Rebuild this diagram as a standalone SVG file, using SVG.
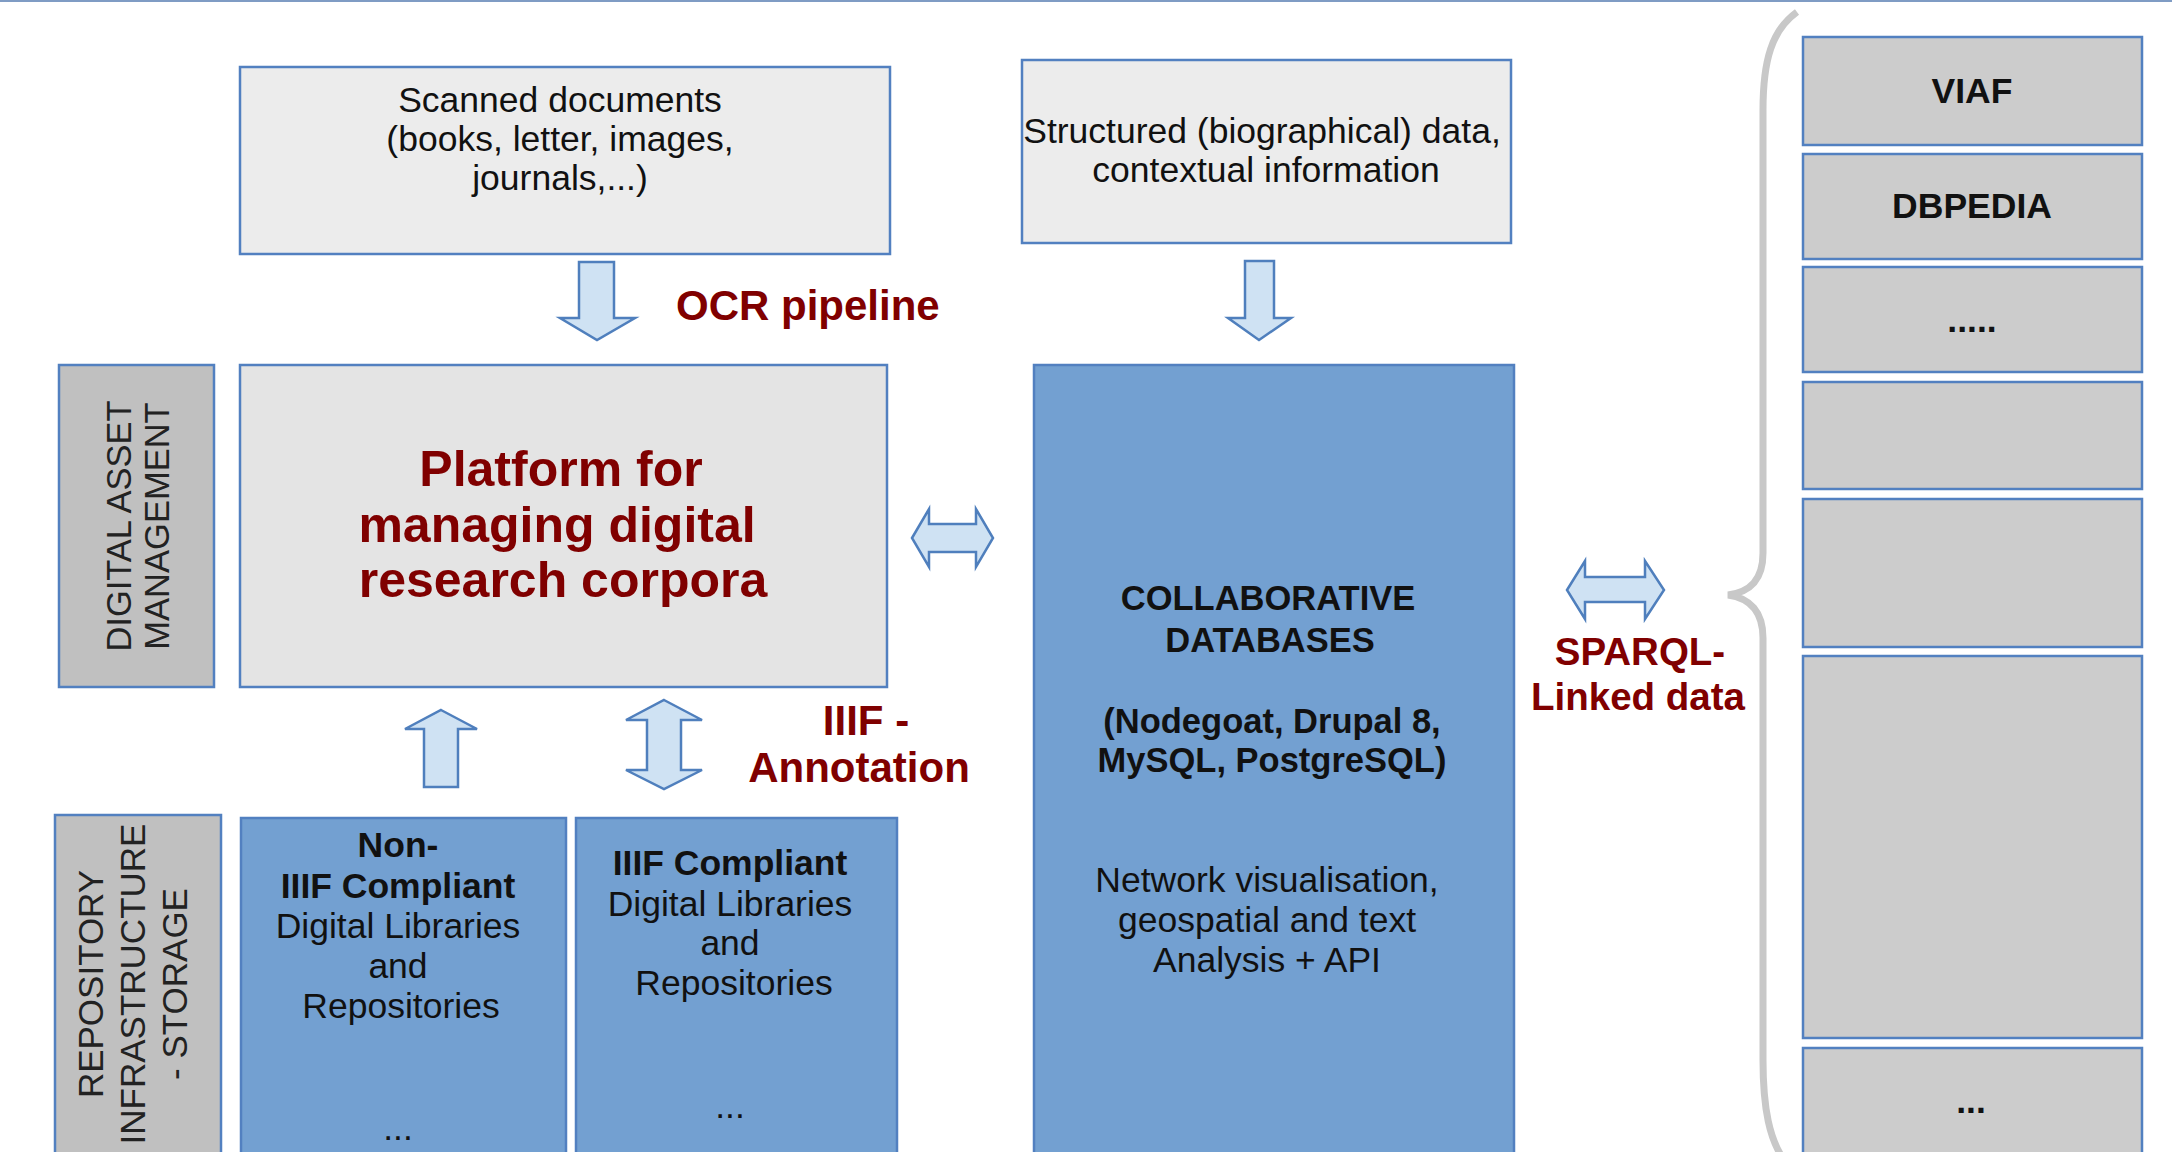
<svg xmlns="http://www.w3.org/2000/svg" width="2172" height="1152" viewBox="0 0 2172 1152">
<style>
text{font-family:"Liberation Sans",Arial,Helvetica,sans-serif;fill:#111}
.box{stroke:#5280c0;stroke-width:2.5}
.light{fill:#ececec}
.plat{fill:#e4e4e4}
.gray{fill:#c0c0c0}
.ext{fill:#cccccc}
.blue{fill:#73a0d1}
.t{font-size:35.5px;text-anchor:middle}
.b{font-weight:bold}
.red{fill:#800000;font-weight:bold}
.arr{fill:#cfe2f3;stroke:#4f7fbd;stroke-width:2.5;stroke-linejoin:miter}
.rot{font-size:34.5px;text-anchor:middle;fill:#222}
</style>
<rect x="0" y="0" width="2172" height="1152" fill="#ffffff"/>
<line x1="0" y1="1" x2="2172" y2="1" stroke="#7f9cc4" stroke-width="2"/>

<g id="scanned">
<rect class="box light" x="240" y="67" width="650" height="187"/>
<text class="t" x="560" y="112">Scanned documents</text>
<text class="t" x="560" y="151">(books, letter, images,</text>
<text class="t" x="560" y="190">journals,...)</text>
</g>

<g id="structured">
<rect class="box light" x="1022" y="60" width="489" height="183"/>
<text class="t" x="1262" y="143">Structured (biographical) data,</text>
<text class="t" x="1266" y="182">contextual information</text>
</g>

<g id="dam">
<rect class="box gray" x="59" y="365" width="155" height="322"/>
<text class="rot" transform="translate(131,526) rotate(-90)">DIGITAL ASSET</text>
<text class="rot" transform="translate(169,526) rotate(-90)">MANAGEMENT</text>
</g>

<g id="platform">
<rect class="box plat" x="240" y="365" width="647" height="322"/>
<text class="t red" style="font-size:50px" x="561" y="486">Platform for</text>
<text class="t red" style="font-size:50px" x="557" y="542">managing digital</text>
<text class="t red" style="font-size:50px" x="563" y="597">research corpora</text>
</g>

<g id="collab">
<rect class="box blue" x="1034" y="365" width="480" height="800"/>
<text class="t b" style="font-size:34.5px" x="1268" y="610">COLLABORATIVE</text>
<text class="t b" style="font-size:34.5px" x="1270" y="652">DATABASES</text>
<text class="t b" style="font-size:34.5px" x="1272" y="733">(Nodegoat, Drupal 8,</text>
<text class="t b" style="font-size:34.5px" x="1272" y="772">MySQL, PostgreSQL)</text>
<text class="t" x="1267" y="892">Network visualisation,</text>
<text class="t" x="1267" y="932">geospatial and text</text>
<text class="t" x="1267" y="972">Analysis + API</text>
</g>

<g id="repository">
<rect class="box gray" x="55" y="815" width="166" height="345"/>
<text class="rot" style="font-size:35px" transform="translate(103,984) rotate(-90)">REPOSITORY</text>
<text class="rot" style="font-size:35px" transform="translate(145,984) rotate(-90)">INFRASTRUCTURE</text>
<text class="rot" style="font-size:35px" transform="translate(187,984) rotate(-90)">- STORAGE</text>
</g>

<g id="non-iiif">
<rect class="box blue" x="241" y="818" width="325" height="345"/>
<text class="t b" x="398" y="857">Non-</text>
<text class="t b" x="398" y="898">IIIF Compliant</text>
<text class="t" x="398" y="938">Digital Libraries</text>
<text class="t" x="398" y="978">and</text>
<text class="t" x="401" y="1018">Repositories</text>
<text class="t" x="398" y="1140">...</text>
</g>

<g id="iiif">
<rect class="box blue" x="576" y="818" width="321" height="345"/>
<text class="t b" x="730" y="875">IIIF Compliant</text>
<text class="t" x="730" y="916">Digital Libraries</text>
<text class="t" x="730" y="955">and</text>
<text class="t" x="734" y="995">Repositories</text>
<text class="t" x="730" y="1118">...</text>
</g>

<g id="viaf">
<rect class="box ext" x="1803" y="37" width="339" height="108"/>
<text class="t b" x="1972" y="103">VIAF</text>
</g>
<g id="dbpedia">
<rect class="box ext" x="1803" y="154" width="339" height="105"/>
<text class="t b" x="1972" y="218">DBPEDIA</text>
</g>
<g id="ext-dots">
<rect class="box ext" x="1803" y="267" width="339" height="105"/>
<text class="t b" x="1972" y="332">.....</text>
</g>
<g id="ext-4">
<rect class="box ext" x="1803" y="382" width="339" height="107"/>
</g>
<g id="ext-5">
<rect class="box ext" x="1803" y="499" width="339" height="148"/>
</g>
<g id="ext-6">
<rect class="box ext" x="1803" y="656" width="339" height="382"/>
</g>
<g id="ext-7">
<rect class="box ext" x="1803" y="1048" width="339" height="112"/>
<text class="t b" x="1971" y="1113">...</text>
</g>

<g id="brace">
<path d="M1797,12 C1772,30 1763,60 1763,110 L1763,553 C1763,580 1750,592 1728,595 C1750,598 1763,612 1763,638 L1763,1060 C1763,1110 1770,1140 1784,1160" fill="none" stroke="#c8c8c8" stroke-width="7"/>
</g>

<g id="connectors">
<polygon class="arr" points="579,262 614,262 614,318 635,318 597,340 560,318 579,318"/>
<polygon class="arr" points="1245,261 1274,261 1274,318 1291,318 1259,340 1228,318 1245,318"/>
<polygon class="arr" points="912,538 929,509 929,524 976,524 976,509 993,538 976,567 976,552 929,552 929,567"/>
<polygon class="arr" points="441,710 477,729 458,729 458,787 424,787 424,729 405,729"/>
<polygon class="arr" points="664,700 702,720 681,720 681,770 702,770 664,789 626,770 647,770 647,720 626,720"/>
<polygon class="arr" points="1567,590 1585,561 1585,577 1645,577 1645,561 1664,590 1645,619 1645,602 1585,602 1585,619"/>
<text class="red" style="font-size:42px" x="676" y="320">OCR pipeline</text>
<text class="red" style="font-size:42px;text-anchor:middle" x="866" y="735">IIIF -</text>
<text class="red" style="font-size:42px;text-anchor:middle" x="859" y="782">Annotation</text>
<text class="red" style="font-size:38.5px;text-anchor:middle" x="1640" y="665">SPARQL-</text>
<text class="red" style="font-size:38.5px;text-anchor:middle" x="1638" y="710">Linked data</text>
</g>
</svg>
